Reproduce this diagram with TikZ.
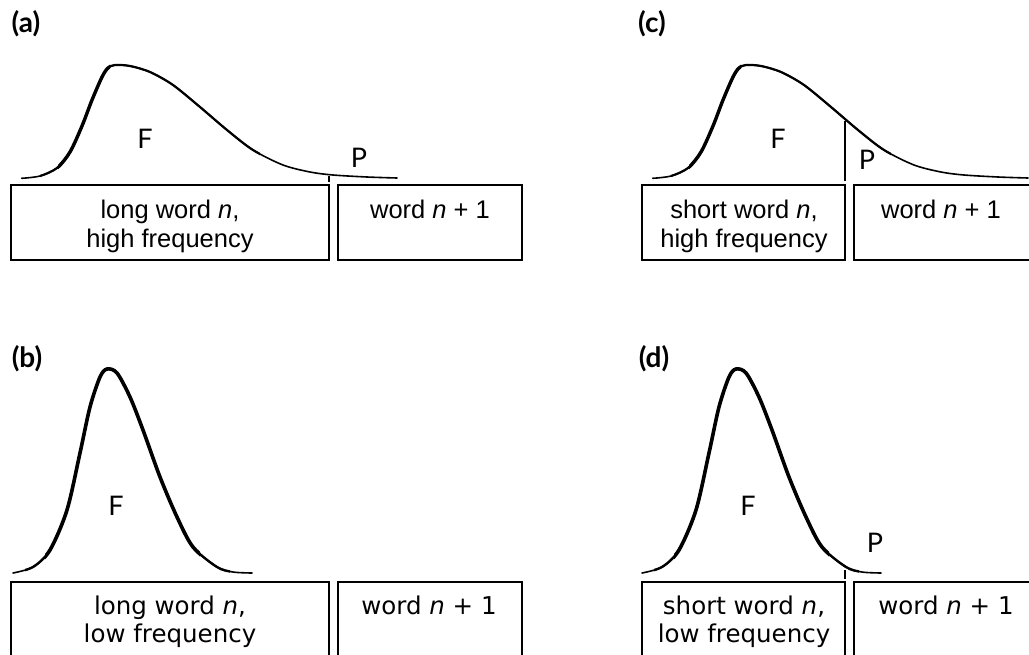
\documentclass[tikz,border=0pt]{standalone}
\usepackage{fontspec}
\setmainfont{Liberation Sans}
\newfontfamily\dejavu{DejaVu Sans}
\newfontfamily\latofont{Lato}
\begin{document}
\begin{tikzpicture}[x=1pt,y=-1pt,
  boxline/.style={line width=2pt},
  curveline/.style={line width=1.6pt,line cap=round},
  toptext/.style={font=\fontsize{25.5}{29}\selectfont, align=center, inner sep=0pt, anchor=base},
  bottext/.style={font=\dejavu\fontsize{24.5}{28}\selectfont, align=center, inner sep=0pt, anchor=base},
  paneltag/.style={font=\latofont\bfseries\fontsize{28}{30}\selectfont, inner sep=0pt},
  fplabel/.style={font=\latofont\fontsize{27}{30}\selectfont, inner sep=0pt}]
\useasboundingbox (0,0) rectangle (1029,654);
\clip (0,0) rectangle (1029,654);
\def\skewcurve{(21.7,178.3) (40,176) (57,168) (70,152) (82,126) (92,100) (102,77) (108,68) (115,65) (130,66) (150,72) (173,85) (200,107) (227,130) (253,150) (283,165) (310,172) (333,175) (367,177) (397,178)}
\def\bellcurve{(13,573) (33,567) (50,550) (67,510) (80,453) (90,407) (100,377) (107,369) (117,373) (130,397) (143,430) (160,477) (177,517) (193,547) (217,567) (233,572) (252,573)}

% ---------- panel (a)
\node[paneltag] (la) at (26,24) {(a)};
\draw[curveline] plot[smooth] coordinates {\skewcurve};
\begin{scope}\clip (40,0) rectangle (260,300);
\draw[line width=2.2pt] plot[smooth] coordinates {\skewcurve};\end{scope}
\begin{scope}\clip (58,0) rectangle (110,300);
\draw[line width=3.4pt] plot[smooth] coordinates {\skewcurve};\end{scope}
\draw[line width=1.5pt] (329,176) -- (329,182);
\draw[boxline] (11,185) rectangle (329,260);
\draw[boxline] (338,185) rectangle (522,260);
\node[fplabel] (Fa) at (145,139) {F};
\node[fplabel] (Pa) at (359,158) {P};
\node[toptext] (wa) at (170,247) {long word \textit{n},\\high frequency};
\node[toptext] (na) at (430,218) {word \textit{n} + 1};

% ---------- panel (c)
\node[paneltag] (lc) at (652,24) {(c)};
\begin{scope}[xshift=631pt]
\draw[curveline] plot[smooth] coordinates {\skewcurve};
\begin{scope}\clip (40,0) rectangle (260,300);
\draw[line width=2.2pt] plot[smooth] coordinates {\skewcurve};\end{scope}
\begin{scope}\clip (58,0) rectangle (110,300);
\draw[line width=3.4pt] plot[smooth] coordinates {\skewcurve};\end{scope}
\end{scope}
\draw[line width=2pt] (845,121) -- (845,181);
\draw[boxline] (642,185) rectangle (845,260);
\draw[boxline] (854,185) rectangle (1034,260);
\node[fplabel] (Fc) at (778,139) {F};
\node[fplabel] (Pc) at (867,160) {P};
\node[toptext] (wc) at (744,247) {short word \textit{n},\\high frequency};
\node[toptext] (nc) at (941,218) {word \textit{n} + 1};

% ---------- panel (b)
\node[paneltag] (lb) at (27,359) {(b)};
\draw[curveline] plot[smooth] coordinates {\bellcurve};
\begin{scope}\clip (25,300) rectangle (230,654);
\draw[line width=2.4pt] plot[smooth] coordinates {\bellcurve};\end{scope}
\begin{scope}\clip (45,300) rectangle (200,654);
\draw[line width=3.6pt] plot[smooth] coordinates {\bellcurve};\end{scope}
\draw[boxline] (11,582) rectangle (329,700);
\draw[boxline] (338,582) rectangle (522,700);
\node[fplabel] (Fb) at (116,506) {F};
\node[bottext] (wb) at (170,642) {long word \textit{n},\\low frequency};
\node[bottext] (nb) at (429,614) {word \textit{n} + 1};

% ---------- panel (d)
\node[paneltag] (ld) at (654,359) {(d)};
\begin{scope}[xshift=629pt]
\draw[curveline] plot[smooth] coordinates {\bellcurve};
\begin{scope}\clip (25,300) rectangle (230,654);
\draw[line width=2.4pt] plot[smooth] coordinates {\bellcurve};\end{scope}
\begin{scope}\clip (45,300) rectangle (200,654);
\draw[line width=3.6pt] plot[smooth] coordinates {\bellcurve};\end{scope}
\end{scope}
\draw[line width=1.5pt] (845,570) -- (845,579);
\draw[boxline] (642,582) rectangle (845,700);
\draw[boxline] (854,582) rectangle (1034,700);
\node[fplabel] (Fd) at (748,506) {F};
\node[fplabel] (Pd) at (875,543) {P};
\node[bottext] (wd) at (744,642) {short word \textit{n},\\low frequency};
\node[bottext] (nd) at (946,614) {word \textit{n} + 1};
\end{tikzpicture}
\end{document}
